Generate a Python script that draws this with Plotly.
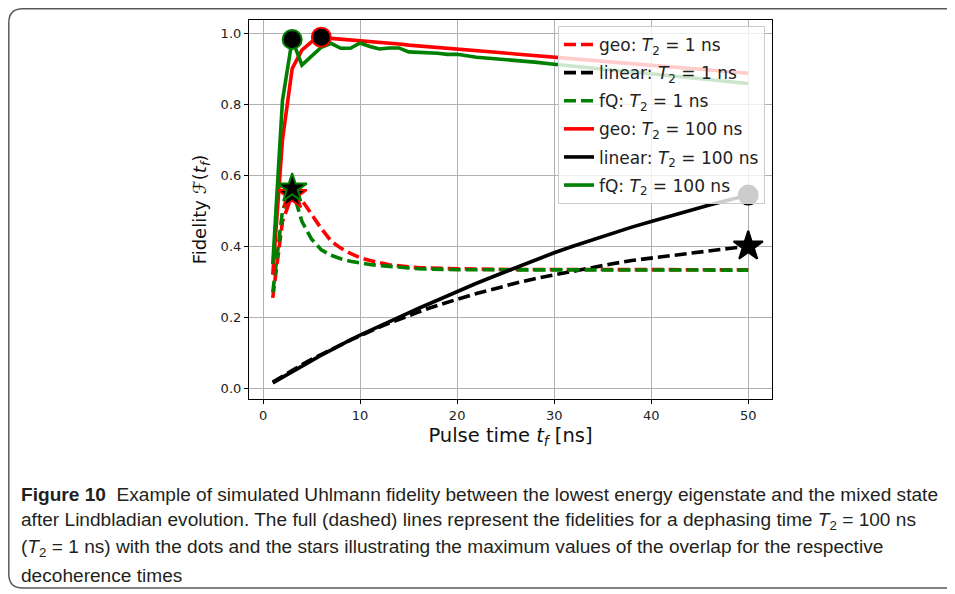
import plotly.graph_objects as go
import numpy as np

# ---------------- data ----------------
t_f = list(range(1, 21)) + list(range(22, 51, 2))

geo_T1 = [0.255, 0.47, 0.545, 0.53, 0.49, 0.45, 0.415, 0.395, 0.38, 0.368,
          0.36, 0.353, 0.348, 0.345, 0.342, 0.340, 0.339, 0.338, 0.337, 0.336,
          0.336, 0.335, 0.335, 0.335, 0.335, 0.334, 0.334, 0.334, 0.334, 0.334,
          0.334, 0.334, 0.334, 0.334, 0.334]
linear_T1 = [0.018, 0.035, 0.051, 0.067, 0.082, 0.096, 0.110, 0.123, 0.136, 0.148,
             0.161, 0.173, 0.184, 0.195, 0.205, 0.215, 0.225, 0.234, 0.243, 0.251,
             0.267, 0.282, 0.296, 0.309, 0.320, 0.331, 0.342, 0.351, 0.360, 0.367,
             0.375, 0.382, 0.388, 0.394, 0.400]
fQ_T1 = [0.27, 0.50, 0.563, 0.47, 0.42, 0.39, 0.375, 0.365, 0.358, 0.353,
         0.349, 0.346, 0.343, 0.341, 0.339, 0.337, 0.336, 0.335, 0.335, 0.334,
         0.334, 0.334, 0.333, 0.333, 0.333, 0.333, 0.333, 0.333, 0.333, 0.333,
         0.333, 0.333, 0.333, 0.333, 0.333]
geo_T100 = [0.32, 0.70, 0.90, 0.952, 0.975, 0.988, 0.985, 0.983, 0.980, 0.978,
            0.976, 0.973, 0.971, 0.969, 0.966, 0.964, 0.962, 0.960, 0.957, 0.955,
            0.950, 0.946, 0.941, 0.937, 0.932, 0.927, 0.923, 0.918, 0.914, 0.909,
            0.905, 0.900, 0.896, 0.891, 0.887]
linear_T100 = [0.016, 0.032, 0.048, 0.064, 0.079, 0.094, 0.108, 0.123, 0.137, 0.150,
               0.163, 0.176, 0.189, 0.201, 0.213, 0.225, 0.237, 0.249, 0.261, 0.273,
               0.296, 0.318, 0.340, 0.361, 0.382, 0.401, 0.419, 0.437, 0.454, 0.470,
               0.486, 0.501, 0.516, 0.530, 0.544]
fQ_T100 = [0.35, 0.81, 0.982, 0.91, 0.935, 0.96, 0.971, 0.957, 0.957, 0.972,
           0.962, 0.955, 0.958, 0.958, 0.947, 0.946, 0.946, 0.943, 0.940, 0.940,
           0.932, 0.928, 0.924, 0.918, 0.912, 0.907, 0.901, 0.896, 0.890, 0.885,
           0.880, 0.874, 0.869, 0.863, 0.858]

series_names = ["geo", "linear", "fQ", "geo", "linear", "fQ"]
series_T2 = ["1", "1", "1", "100", "100", "100"]
x_ticks = [0, 10, 20, 30, 40, 50]
y_ticks = [0.0, 0.2, 0.4, 0.6, 0.8, 1.0]
y_tick_labels = ["0.0", "0.2", "0.4", "0.6", "0.8", "1.0"]

caption_lines = [
    "<b>Figure 10</b>&nbsp;&nbsp;Example of simulated Uhlmann fidelity between the lowest energy eigenstate and the mixed state",
    "after Lindbladian evolution. The full (dashed) lines represent the fidelities for a dephasing time <i>T</i><sub>2</sub> = 100 ns",
    "(<i>T</i><sub>2</sub> = 1 ns) with the dots and the stars illustrating the maximum values of the overlap for the respective",
    "decoherence times",
]

# ---------------- figure ----------------
OFF = 8                      # page offset of the figure (body margin)
W, H = 955 - OFF, 594 - OFF
L, R, T, B = 249 - OFF, 772 - OFF, 20 - OFF, 399 - OFF  # plot area, figure pixels
pw, ph = R - L, B - T

RED, BLACK, GREEN = "#ff0000", "#000000", "#008000"
colors = [RED, BLACK, GREEN, RED, BLACK, GREEN]
values = [geo_T1, linear_T1, fQ_T1, geo_T100, linear_T100, fQ_T100]
DASH = "12px,5px"

fig = go.Figure()
for i, (name, T2, col, ys) in enumerate(zip(series_names, series_T2, colors, values)):
    fig.add_trace(go.Scatter(
        x=t_f, y=ys, mode="lines",
        line=dict(color=col, width=3.6, dash=DASH if T2 == "1" else "solid"),
        name=f"{name}: <i>T</i><sub>2</sub> = {T2} ns",
        legendgroup=f"g{i}",
        hoverinfo="skip",
    ))

# maximum markers: stars for T2 = 1 ns, dots for T2 = 100 ns
for col, ys, T2 in zip(colors, values, series_T2):
    k = int(np.argmax(ys))
    fig.add_trace(go.Scatter(
        x=[t_f[k]], y=[ys[k]], mode="markers", showlegend=False,
        marker=dict(symbol="star" if T2 == "1" else "circle",
                    size=22 if T2 == "1" else 19,
                    color="black", line=dict(color=col, width=2)),
        hoverinfo="skip",
    ))


def px_x(px):
    """page pixel -> paper x"""
    return (px - OFF - L) / pw


def px_y(py):
    """page pixel -> paper y"""
    return (B - (py - OFF)) / ph


# outer rounded frame
x0, x1 = (0.8 - L) / pw, px_x(975)
y0, y1 = (B - 0.8) / ph, px_y(588)
rx, ry = 14 / pw, 14 / ph
path = (f"M {x0+rx},{y0} L {x1-rx},{y0} Q {x1},{y0} {x1},{y0-ry} "
        f"L {x1},{y1+ry} Q {x1},{y1} {x1-rx},{y1} L {x0+rx},{y1} "
        f"Q {x0},{y1} {x0},{y1+ry} L {x0},{y0-ry} Q {x0},{y0} {x0+rx},{y0} Z")
fig.add_shape(type="path", path=path, xref="paper", yref="paper",
              line=dict(color="#5a5a5a", width=1.5), layer="below")

caption_y = [494, 521, 548, 575]
for txt, cy in zip(caption_lines, caption_y):
    fig.add_annotation(text=txt, xref="paper", yref="paper",
                       x=px_x(19), y=px_y(cy), xanchor="left", yanchor="middle",
                       showarrow=False,
                       font=dict(family="Liberation Sans", size=19.1, color="#231f20"))

axis_common = dict(
    showline=True, linecolor="black", linewidth=1.2, mirror=True,
    ticks="outside", ticklen=4, tickwidth=1, tickcolor="black",
    showgrid=True, gridcolor="#b0b0b0", gridwidth=1, zeroline=False,
    tickfont=dict(family="DejaVu Sans", size=13, color="#222222"),
)

fig.update_layout(
    width=W, height=H,
    margin=dict(l=L, r=W - R, t=T, b=H - B),
    paper_bgcolor="white", plot_bgcolor="white",
    xaxis=dict(range=[-1.45, 52.45], tickvals=x_ticks, **axis_common,
               title=dict(text="Pulse time <i>t<sub>f</sub></i> [ns]",
                          font=dict(family="DejaVu Sans", size=19.5, color="#111111"),
                          standoff=6)),
    yaxis=dict(range=[-0.0295, 1.0366], tickvals=y_ticks, ticktext=y_tick_labels,
               **axis_common,
               title=dict(text="Fidelity <i>ℱ</i>(<i>t<sub>f</sub></i>)",
                          font=dict(family="DejaVu Sans", size=18, color="#111111"),
                          standoff=9)),
    legend=dict(x=px_x(765), y=px_y(26), xanchor="right", yanchor="top",
                bgcolor="rgba(255,255,255,0.8)", bordercolor="#cccccc", borderwidth=1,
                font=dict(family="DejaVu Sans", size=17, color="#222222"),
                tracegroupgap=3, itemwidth=30),
    showlegend=True,
)

fig.write_html("out.html")
